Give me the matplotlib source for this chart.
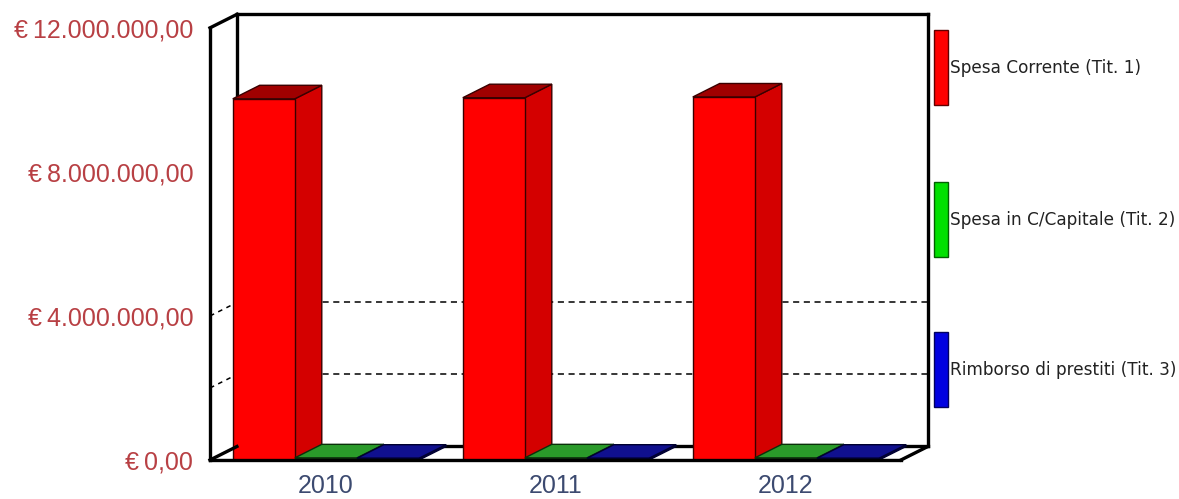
import matplotlib
matplotlib.use("Agg")
import matplotlib.pyplot as plt
from matplotlib.patches import Polygon, Rectangle

# chart data
years = ["2010", "2011", "2012"]
series = ["Spesa Corrente (Tit. 1)", "Spesa in C/Capitale (Tit. 2)", "Rimborso di prestiti (Tit. 3)"]
spesa_corrente = [10030000, 10060000, 10080000]
spesa_capitale = [60000, 60000, 60000]
rimborso_prestiti = [50000, 50000, 50000]
y_ticks = [0, 4000000, 8000000, 12000000]
grid_levels = [2000000, 4000000]

front_col = ["#ff0000", "#22a022", "#0c0c9c"]
side_col = ["#d40000", "#1a7a1a", "#08086e"]
top_col = ["#a00000", "#2a9a2a", "#10108e"]
edge_col = ["#3a0000", "#0a300a", "#000030"]
legend_col = ["#ff0000", "#00e000", "#0000e0"]
legend_edge = ["#600000", "#006000", "#000060"]

W, H = 1179, 499
fig = plt.figure(figsize=(W / 100, H / 100), dpi=100)
fig.patch.set_facecolor("white")
ax = fig.add_axes([210 / W, (H - 460) / H, 722 / W, 448 / H])

bar_w = 0.27
dx = 0.117           # depth offset, category units
dy = 375000          # depth offset, value units
ytop = 12000000
xl = -0.504
xr = 2.5
ax.set_xlim(xl, 2.635)
ax.set_ylim(0, 12440000)

frame = dict(color="black", lw=2.4, solid_capstyle="projecting", clip_on=False)

# walls and floor
ax.add_patch(Polygon([(xl + dx, dy), (xr + dx, dy), (xr + dx, ytop + dy), (xl + dx, ytop + dy)],
                     closed=True, fc="white", ec="none", zorder=1))
ax.add_patch(Polygon([(xl, 0), (xl + dx, dy), (xl + dx, ytop + dy), (xl, ytop)],
                     closed=True, fc="white", ec="none", zorder=1))
ax.add_patch(Polygon([(xl, 0), (xr, 0), (xr + dx, dy), (xl + dx, dy)],
                     closed=True, fc="white", ec="black", lw=1.5, zorder=1))

for g in grid_levels:
    ax.plot([xl + dx, xr + dx], [g + dy, g + dy], color="black", lw=1.1, ls=(0, (4, 3)), zorder=2)
    ax.plot([xl, xl + dx], [g, g + dy], color="black", lw=1.1, ls=(0, (3, 3)), zorder=2)

ax.plot([xl + dx, xr + dx], [ytop + dy, ytop + dy], zorder=3, **frame)
ax.plot([xr + dx, xr + dx], [dy, ytop + dy], zorder=3, **frame)
ax.plot([xl + dx, xl + dx], [dy, ytop + dy], zorder=3, **frame)
ax.plot([xl + dx, xr + dx], [dy, dy], zorder=3, **frame)
ax.plot([xl, xl + dx], [ytop, ytop + dy], zorder=3, **frame)


def box(x0, h, i):
    front = [(x0, 0), (x0 + bar_w, 0), (x0 + bar_w, h), (x0, h)]
    side = [(x0 + bar_w, 0), (x0 + bar_w + dx, dy), (x0 + bar_w + dx, h + dy), (x0 + bar_w, h)]
    top = [(x0, h), (x0 + bar_w, h), (x0 + bar_w + dx, h + dy), (x0 + dx, h + dy)]
    for pts, c in ((side, side_col[i]), (top, top_col[i]), (front, front_col[i])):
        ax.add_patch(Polygon(pts, closed=True, fc=c, ec=edge_col[i], lw=1, zorder=4))


values = [spesa_corrente, spesa_capitale, rimborso_prestiti]
for k in range(len(years)):
    for i, vals in enumerate(values):
        x0 = k + (i - 1) * bar_w - bar_w / 2
        box(x0, vals[k], i)

# front edges
ax.plot([xl, xl], [0, ytop], zorder=5, **frame)
ax.plot([xl, xr], [0, 0], zorder=5, **frame)
ax.plot([xr, xr + dx], [0, dy], zorder=5, **frame)
ax.plot([xl, xl + dx], [0, dy], zorder=5, **frame)


def euro(v):
    s = f"{v:,.2f}".replace(",", "X").replace(".", ",").replace("X", ".")
    return "\u20ac\u2009" + s


ax.set_yticks(y_ticks)
ax.set_yticklabels([euro(v) for v in y_ticks], fontsize=18, color="#b84044",
                   family="Liberation Sans")
ax.set_xticks(range(len(years)))
ax.set_xticklabels(years, fontsize=18, color="#3c4a70", family="Liberation Sans")
ax.tick_params(axis="y", length=0, pad=12)
ax.tick_params(axis="x", length=0, pad=10)
for s in ax.spines.values():
    s.set_visible(False)
ax.set_facecolor("none")

# legend
leg_y = [30, 182, 332]
for i, name in enumerate(series):
    y0 = leg_y[i]
    fig.add_artist(Rectangle((934 / W, 1 - (y0 + 75) / H), 14 / W, 75 / H, transform=fig.transFigure,
                             fc=legend_col[i], ec=legend_edge[i], lw=1))
    fig.text(950 / W, 1 - (y0 + 38) / H, name, fontsize=12.2, va="center", ha="left",
             family="DejaVu Sans", color="#222222")

fig.savefig("out.png", dpi=100)
